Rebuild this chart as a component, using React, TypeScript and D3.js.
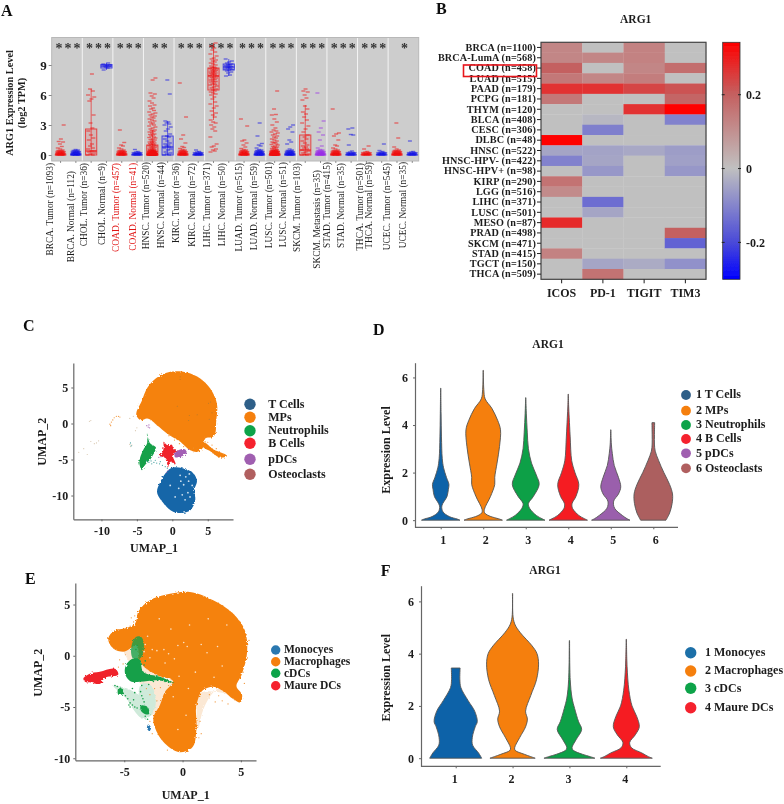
import * as d3 from "d3";
import { useEffect, useRef } from "react";

const SERIF = "'Liberation Serif', 'Times New Roman', serif";
const INK = "#1c1c1c";
type Sel = d3.Selection<any, any, any, any>;
type Pt = [number, number];

/* ---------- panel A: expression by tumour type ---------- */
const facets = ["BRCA", "CHOL", "COAD", "HNSC", "KIRC", "LIHC", "LUAD", "LUSC", "SKCM", "STAD", "THCA", "UCEC"];
const starCounts = [3, 3, 3, 2, 3, 3, 3, 3, 3, 3, 3, 1];
const sampleLabels = [
  "BRCA. Tumor (n=1093)", "BRCA. Normal (n=112)", "CHOL. Tumor (n=36)", "CHOL. Normal (n=9)",
  "COAD. Tumor (n=457)", "COAD. Normal (n=41)", "HNSC. Tumor (n=520)", "HNSC. Normal (n=44)",
  "KIRC. Tumor (n=36)", "KIRC. Normal (n=72)", "LIHC. Tumor (n=371)", "LIHC. Normal (n=50)",
  "LUAD. Tumor (n=515)", "LUAD. Normal (n=59)", "LUSC. Tumor (n=501)", "LUSC. Normal (n=51)",
  "SKCM. Tumor (n=103)", "SKCM. Metastasis (n=35)", "STAD. Tumor (n=415)", "STAD. Normal (n=35)",
  "THCA. Tumor (n=501)", "THCA. Normal (n=59)", "UCEC. Tumor (n=545)", "UCEC. Normal (n=35)",
];
const highlightedLabels = ["COAD. Tumor (n=457)", "COAD. Normal (n=41)"];
const labelX = [50, 71, 84, 101.7, 116, 132.7, 146, 160.7, 175.7, 191.7, 207, 221.7, 238.7, 254, 268.7, 283.3, 296.7, 316.7, 327.3, 340.7, 360, 369, 386.7, 402.7];
const labelTop = [163, 171, 163, 163, 163, 163, 162, 162, 163, 163, 163, 163, 163, 163, 162, 162, 163, 170, 162, 163, 163, 162, 163, 162];

const floorWide = [0, 0, 0, 0, 0, 0, 0.01, 0.02, 0.02, 0.03, 0.05, 0.05, 0.06, 0.08, 0.08, 0.09, 0.1, 0.1, 0.12, 0.13, 0.14, 0.15, 0.16, 0.18, 0.19, 0.2, 0.21, 0.22, 0.24, 0.25, 0.27, 0.28, 0.3, 0.32, 0.34, 0.36, 0.38, 0.4, 0.42, 0.46, 0.5];
const floorLow = [0, 0, 0, 0, 0, 0.01, 0.02, 0.03, 0.05, 0.05, 0.06, 0.08, 0.09, 0.1, 0.12, 0.13, 0.15, 0.17, 0.18, 0.2, 0.22, 0.24, 0.26, 0.3];

const sampleValues: number[][] = [
  [...floorWide, 0.6, 0.7, 0.85, 1.1, 1.3, 1.35, 1.6, 3.0],
  [...floorWide, 0.55],
  [0, 0, 0.1, 0.2, 0.3, 0.4, 0.4, 0.6, 0.7, 0.9, 1.1, 1.5, 1.7, 2, 2.4, 2.7, 3.2, 4, 5.4, 5.6, 5.8, 6, 6.4, 6.6, 8.1],
  [8.5, 8.7, 8.8, 8.85, 8.9, 8.95, 9, 9.1, 9.2],
  [...floorWide, 0.6, 0.7, 0.9, 1, 1.25, 2.5],
  [...floorLow, 0.35, 0.55],
  [...floorWide, ...floorWide, 0.5, 0.55, 0.6, 0.65, 0.7, 0.75, 0.8, 0.85, 0.9, 0.95, 1, 1.05, 1.1, 1.15, 1.2, 1.25, 1.3, 1.35, 1.4, 1.5, 1.55, 1.6, 1.7, 1.75, 1.8, 1.9, 2, 2.05, 2.1, 2.2, 2.3, 2.35, 2.45, 2.5, 2.6, 2.7, 2.8, 2.9, 3, 3.1, 3.2, 3.3, 3.4, 3.5, 3.6, 3.7, 3.8, 3.9, 4, 4.1, 4.2, 4.3, 4.45, 4.6, 4.7, 4.9, 5, 5.2, 5.4, 5.7, 5.9, 6.1, 6.2, 7.5, 7.7],
  [0, 0, 0.1, 0.2, 0.3, 0.5, 0.6, 0.7, 0.8, 0.9, 1, 1.1, 1.2, 1.4, 1.6, 1.8, 1.9, 2.1, 2.4, 2.6, 2.8, 3, 3.1, 3.2, 3.3, 3.4, 6.1, 7.5],
  [...floorWide, 0.55, 0.65, 0.75, 0.85, 1.2, 1.6, 2, 3.8, 7.2],
  [...floorLow, 0.35, 0.5],
  [0.3, 0.4, 0.5, 0.6, 0.8, 0.9, 1.1, 1.8, 2.4, 2.6, 2.8, 3, 3.2, 3.3, 3.5, 3.8, 4, 4.2, 4.4, 4.7, 4.9, 5.1, 5.3, 5.6, 5.8, 6, 6.1, 6.2, 6.3, 6.4, 6.5, 6.6, 6.7, 6.8, 6.9, 7, 7.05, 7.1, 7.2, 7.3, 7.35, 7.4, 7.5, 7.55, 7.6, 7.7, 7.75, 7.8, 7.9, 7.95, 8, 8.05, 8.1, 8.15, 8.2, 8.25, 8.3, 8.35, 8.4, 8.45, 8.5, 8.55, 8.6, 8.65, 8.7, 8.75, 8.8, 8.9, 9, 9.1, 9.2, 9.3, 9.4, 9.5, 9.6, 9.7, 9.9, 10.1, 10.3, 10.5, 10.7, 10.9, 11.2],
  [7.9, 8, 8.2, 8.3, 8.4, 8.5, 8.55, 8.6, 8.65, 8.7, 8.75, 8.8, 8.85, 8.9, 8.95, 9, 9.05, 9.1, 9.2, 9.3, 9.4, 9.6],
  [...floorWide, 0.55, 0.65, 0.8, 1, 1.2, 1.4, 1.5, 2.9, 3.6],
  [...floorWide, 0.55, 0.7, 0.9, 1, 1.15, 1.9, 3.2],
  [...floorWide, ...floorWide, 0.55, 0.6, 0.65, 0.7, 0.75, 0.8, 0.85, 0.9, 1, 1.05, 1.1, 1.2, 1.25, 1.3, 1.4, 1.5, 1.6, 1.7, 1.8, 1.9, 2, 2.1, 2.2, 2.3, 2.4, 2.5, 2.7, 3, 3.3, 3.6, 4, 4.05, 4.6, 6.4],
  [...floorWide, 0.6, 1.1, 1.3, 1.5, 2.3, 2.6, 2.8, 3],
  [0, 0, 0.05, 0.1, 0.2, 0.3, 0.4, 0.5, 0.6, 0.7, 0.8, 0.9, 1, 1.2, 1.4, 1.6, 1.8, 2, 2.3, 2.6, 2.9, 3.2, 3.5, 3.8, 4.1, 4.3, 4.6, 4.9, 5.5, 5.7, 6, 6.3, 6.4, 6.6],
  [...floorWide, 0.55, 0.7, 0.9, 1.5, 2, 2.3, 2.7, 3.4, 6.2],
  [...floorWide, 0.6, 0.7, 0.9, 1, 1.5, 1.9, 2.1, 2.2, 4.6],
  [...floorLow, 0.4, 1, 2, 2.05, 2.6, 2.7],
  [...floorLow, 0.35, 0.6, 0.9],
  [...floorLow, 0.35, 0.45, 1.1],
  [...floorWide, 0.6, 0.8, 1.7, 3.2],
  [...floorLow, 0.35, 1.4],
];

// [whisker low, q1, median, q3, whisker high], null where the box is hidden by the points
const boxStats: (number[] | null)[] = [
  null, null, [0, 0, 0.4, 2.6, 6.6], [8.5, 8.7, 8.9, 9.05, 9.2], null, null,
  [0, 0, 0.1, 1, 2.5], [0, 0, 0.8, 1.9, 3.4], null, null, [3.5, 6.5, 7.9, 8.7, 11.2], [7.9, 8.5, 8.8, 9.1, 9.6],
  null, null, null, null, [0, 0, 0.5, 2, 5], null, null, null, null, null, null, null,
];
const jitter = [-0.9, 0.4, -0.2, 0.8, -0.6, 0.1, 1, -1, 0.55, -0.35, 0.25, -0.75, 0.7, -0.1];

/* ---------- panel B: correlation with checkpoint genes ---------- */
const rowLabels = [
  "BRCA (n=1100)", "BRCA-LumA (n=568)", "COAD (n=458)", "LUAD (n=515)", "PAAD (n=179)", "PCPG (n=181)",
  "THYM (n=120)", "BLCA (n=408)", "CESC (n=306)", "DLBC (n=48)", "HNSC (n=522)", "HNSC-HPV- (n=422)",
  "HNSC-HPV+ (n=98)", "KIRP (n=290)", "LGG (n=516)", "LIHC (n=371)", "LUSC (n=501)", "MESO (n=87)",
  "PRAD (n=498)", "SKCM (n=471)", "STAD (n=415)", "TGCT (n=150)", "THCA (n=509)",
];
const geneLabels = ["ICOS", "PD-1", "TIGIT", "TIM3"];
const icosValues = [0.12, 0.12, 0.2, 0.15, 0.27, 0.15, 0, 0, 0, 0.34, -0.045, -0.105, 0, 0.16, 0.11, 0, 0, 0.28, 0, 0, 0.13, 0, 0];
const pd1Values = [0, 0.12, 0, 0.12, 0.27, 0, 0, -0.015, -0.11, 0, -0.05, -0.045, -0.07, 0, 0, -0.14, -0.045, 0, 0, 0, 0, -0.045, 0.16];
const tigitValues = [0.13, 0.13, 0.12, 0.14, 0.24, 0, 0.27, 0, 0, 0, -0.04, 0, 0, 0, 0, 0, 0, 0, 0, 0, 0, -0.035, 0];
const tim3Values = [0, 0, 0.17, 0, 0.22, 0.19, 0.34, -0.105, 0, 0, -0.06, -0.055, -0.07, 0, 0, 0, 0, 0, 0.2, -0.16, 0, -0.08, 0];
const colorbarTicks = [0.2, 0, -0.2];

/* ---------- panels C, E: UMAP outlines in UMAP units ---------- */
const cMps: Pt[] = [[-4.98, 0.93], [-4.27, 3.24], [-3.5, 5.0], [-2.3, 6.3], [-0.28, 7.18], [2.07, 7.08], [3.94, 6.25], [5.35, 4.86], [6.29, 2.78], [6.2, 0.46], [5.73, -1.85], [4.65, -2.08], [4.41, -3.24], [3.47, -3.94], [2.54, -3.7], [1.13, -2.55], [-0.75, -1.39], [-2.16, -0.23], [-3.57, 0.69], [-4.5, 0.46]];
const cMpsTail: Pt[] = [[4.41, -2.75], [5.82, -3.6], [7.7, -4.54], [6.9, -4.75], [5.35, -3.85], [4.3, -3.1]];
const cTCells: Pt[] = [[-0.28, -6.25], [2.07, -6.39], [3, -6.94], [3.47, -7.87], [3.1, -9.26], [3.24, -10.65], [2.54, -12.04], [0.19, -12.27], [-1.22, -11.1], [-2.16, -9.49], [-1.69, -8.1], [-0.99, -6.94]];
const cNeutrophils: Pt[] = [[-3.57, -1.39], [-3.1, -2.78], [-2.39, -3.24], [-2.86, -4.63], [-4.03, -6.02], [-4.27, -6.48], [-4.6, -5.79], [-4.13, -3.7], [-3.57, -2.78]];
const cBCells: Pt[] = [[-1.22, -2.55], [-0.75, -3.0], [-0.05, -3.0], [0.19, -3.61], [0.89, -3.8], [0.09, -4.26], [0.42, -5.65], [-0.28, -5.32], [-0.61, -6.11], [-0.89, -4.86], [-1.78, -4.4], [-1.36, -3.94], [-1.22, -3.24]];
const cPdcs: Pt[] = [[0.3, -4.55], [2.0, -3.85], [1.9, -3.7], [0.3, -4.3]];
const cOrangeStray: Pt[] = [[-8.7, -0.3], [-8.8, -0.1], [-8.6, 0.2], [-8.4, 0.5], [-8.2, 0.8], [-7.9, 1], [-7.6, 1], [-7.4, 0.9], [5, -2.6], [4.6, -1.9], [5.6, -3], [6.2, -3.5], [3, -3.4], [1, -2.8], [0.3, -2.3], [-0.5, -1.7], [1.6, -3.2], [7.2, -4.3]];
const cFaintStray: Pt[] = [[-11.7, 0.3], [-11.5, 0.4], [-10.7, -2.7], [-11, -2.8], [-10.4, -2.4], [-12.5, -3.5], [-13.2, -4], [-12, -4.3], [-11.5, -2.5], [-6, -2.9], [-5.9, -3.2], [-5.7, -3], [-5.2, -1], [-5, -0.6], [-6, 0.7], [-5.5, 1]];
const cTealStray: Pt[] = [[-3, -5.2], [-2.6, -5.4], [-2.2, -5.5], [-1.8, -5.6], [-1.4, -5.8], [-1, -6], [-3.3, -5.4], [-2.9, -5.6], [-2.4, -5.1], [-1.7, -5.3], [-3.6, -5.2], [-0.7, -6.2], [-5.9, -2.7], [-5.8, -3.1]];
const cPurpleStray: Pt[] = [[-3.6, -0.3], [-3.4, -0.5], [-3.3, -0.2], [-3.2, -0.6], [-1.6, -4.6], [-1.9, -4.7], [2.3, -3.6], [0.6, -4.5], [-0.6, -6.5], [-0.8, -6.8]];
const cDarkSpeck: Pt[] = [[1.1, 6.5], [1.1, 6.1], [5.4, 3], [5.1, 2.8], [5.6, 1.5], [3.5, 1.2], [2.3, 0.4], [2.4, 1.1], [5.2, 0.6], [0.7, 2.4]];
const cWhiteSpeck: Pt[] = [[1.2, -8], [1.6, -8.5], [1.9, -7.4], [2.3, -8], [0.9, -9], [1.4, -9.9], [2.2, -9.6], [1.8, -10.6], [2.4, -7], [0.4, -10.2], [-0.3, -8.6], [2.8, -8.6], [2.5, -10.2], [1.1, -7.2]];

const eMacrophages: Pt[] = [[-6.37, 1.69], [-5.94, 2.4], [-4.8, 2.7], [-4.1, 3.1], [-3.8, 4.29], [-2.8, 5.42], [-1.37, 5.97], [0.63, 6.23], [2.63, 5.42], [4.34, 4.12], [5.34, 2.5], [5.54, 0.39], [5.06, -1.88], [4.63, -3.02], [5.11, -3.83], [4.97, -4.55], [4.34, -4.22], [3.49, -3.44], [2.63, -3.02], [1.77, -3.34], [1.2, -4.81], [1.2, -7.08], [0.77, -9.03], [-0.23, -9.42], [-1.23, -8.86], [-2.23, -7.4], [-2.51, -6.1], [-1.94, -4.81], [-1.51, -3.51], [-0.8, -2.53], [-2.23, -1.88], [-3.66, -0.58], [-3.94, 1.04], [-5.09, 0.39], [-5.94, 0.71]];
const eSparse: Pt[] = [[-5.1, 2.6], [-3.6, 2.8], [-3.6, -0.7], [-2, -2], [-0.5, -2.7], [-1.4, -3.6], [-2, -5.2], [-2.6, -5.8], [-3.4, -4.3], [-3.6, -2.8], [-4.4, -1], [-5, 0.4]];
const eSparseRight: Pt[] = [[3.2, -3.1], [4.6, -2.9], [4.4, -3.9], [3.4, -3.6], [1.6, -3.6], [1.4, -7], [1.7, -5.5]];
const eGreenSparseA: Pt[] = [[-5.94, -2.92], [-4.8, -3.18], [-2.66, -5.78], [-3.09, -6.1], [-5.09, -3.84]];
const eGreenSparseB: Pt[] = [[-3.37, -2.69], [-3.0, -2.7], [-2.66, -5.4], [-3.1, -5.4]];
const eCdcsCore: Pt[] = [[-4.94, -1.23], [-4.23, -0.26], [-3.8, -0.26], [-3.37, -1.56], [-1.94, -2.05], [-0.66, -2.69], [-2.23, -2.38], [-3.66, -2.53], [-4.37, -2.53], [-4.94, -1.72]];
const eCdcsStreak: Pt[] = [[-3.8, 1.9], [-3.72, 1.9], [-3.85, -0.4], [-4.05, -0.4]];
const eCdcsBlobA: Pt[] = [[-5.5, -3.2], [-5.1, -3.3], [-5.1, -3.7], [-5.5, -3.8]];
const eCdcsBlobB: Pt[] = [[-3.6, -4.9], [-3, -5], [-2.9, -5.7], [-3.2, -5.7], [-3.6, -5.3]];
const eMaureDcs: Pt[] = [[-8.51, -2.27], [-8.09, -1.82], [-7.09, -1.56], [-5.66, -1.4], [-5.51, -1.72], [-6.74, -2.21], [-7.03, -2.7], [-7.89, -2.6], [-8.37, -2.53]];
const eMonocytes: Pt[] = [[-2.95, -6.7], [-2.7, -7], [-2.85, -7.35], [-3.05, -7.1]];
const eGreenStray: Pt[] = [[-5.8, -2.9], [-5.6, -3], [-5.3, -3.3], [-4.9, -3.9], [-4.7, -4.2], [-4.5, -4.6], [-4.3, -4.8], [-4.1, -5], [-3.9, -5.1], [-3.6, -3.5], [-3.5, -3.9], [-3.4, -4.2], [-3.3, -4.5], [-3.5, -2.9], [-4.3, -3.2], [-4.1, -3.6], [-4.6, -4.8], [-4.5, -5], [-4.2, -4.3], [-3.2, -5.9], [-3, -6.2], [-2.5, -2.5], [-2.9, -2.8], [-1.5, -2.5], [-3.2, -0.5], [-3.3, -0.9], [-4, 0.6], [-3.9, 1]];
const eOrangeStray: Pt[] = [[-5.4, -0.4], [-5.1, -0.8], [-5.5, -1.1], [-4.9, 0.1], [-4.5, 2.9], [-4.2, 3.3], [-4.4, 3.7], [-4.1, 3.9], [1.6, -7.6], [1.5, -6.4], [1.4, -8], [3.4, -4.4], [3.9, -4.7], [3.1, -3.9], [2.3, -3.8], [2.8, -4.5], [5.3, -2.7], [5.2, -1.6], [5.7, 1.5], [-1.3, -9.2], [-2.6, -7.6], [-2.8, -6.4], [-2.4, -3.2], [-2.8, -3.8], [-2.2, -4.4], [-1.9, -3.1], [-1.2, -2.9], [-3.1, -3.2]];
const eWhiteSpeck: Pt[] = [[-2.6, 0.6], [-2.2, 0.5], [-1.6, 0.6], [-1.2, 0.2], [-0.4, 1], [0.1, 1.3], [0.4, 0.9], [-0.7, -0.3], [-1.5, -0.7], [-2.8, -0.2], [1.6, 1.1], [2.1, 0.3], [3, 0.9], [3.4, -1], [2.7, -2.1], [1.1, -1.6], [-0.3, -2], [0.6, 3], [-1, 2.6], [-3, 1.9], [3.8, 3], [0.3, -5.8], [-0.8, -4], [-0.4, -7.2], [0.5, -3.2], [2.2, 3.6], [-2, 3.6], [-3.3, 0.4], [-3.2, 1.1]];

const clusterLabelsC = ["T Cells", "MPs", "Neutrophils", "B Cells", "pDCs", "Osteoclasts"];
const clusterLabelsE = ["Monocyes", "Macrophages", "cDCs", "Maure DCs"];

/* ---------- panels D, F: violin profiles, [level, relative half width] ---------- */
const violinD: Pt[][] = [
  [[0, 1], [0.05, 0.85], [0.15, 0.45], [0.35, 0.12], [0.6, 0.06], [1, 0.33], [1.3, 0.4], [1.5, 0.43], [1.8, 0.3], [2.2, 0.15], [2.6, 0.08], [3.5, 0.04], [4.5, 0.02], [5.55, 0.005]],
  [[0, 1], [0.06, 0.8], [0.15, 0.4], [0.3, 0.08], [0.45, 0.06], [1, 0.38], [1.5, 0.6], [1.8, 0.6], [2.4, 0.72], [3.1, 0.85], [3.8, 0.9], [4.2, 0.75], [4.7, 0.45], [5.1, 0.1], [5.5, 0.03], [6.3, 0.005]],
  [[0, 1], [0.06, 0.85], [0.2, 0.55], [0.5, 0.2], [0.7, 0.14], [1, 0.4], [1.5, 0.7], [1.9, 0.55], [2.4, 0.3], [3, 0.14], [3.7, 0.08], [4.5, 0.03], [5.15, 0.005]],
  [[0, 1], [0.06, 0.85], [0.2, 0.55], [0.5, 0.22], [0.7, 0.2], [1, 0.4], [1.5, 0.55], [2, 0.35], [2.5, 0.18], [3.5, 0.1], [4.3, 0.05], [4.8, 0.02], [5.3, 0.005]],
  [[0, 1], [0.06, 0.85], [0.2, 0.6], [0.5, 0.2], [0.8, 0.15], [1.1, 0.4], [1.4, 0.52], [1.8, 0.4], [2.3, 0.18], [2.8, 0.08], [3.2, 0.03], [3.8, 0.005]],
  [[0, 0.66], [0.3, 0.85], [0.7, 0.98], [1.1, 1], [1.5, 0.85], [2, 0.55], [2.5, 0.28], [2.9, 0.1], [3.2, 0.06], [3.6, 0.06], [4.1, 0.07]],
];
const violinF: Pt[][] = [
  [[0, 1], [0.2, 0.88], [0.5, 0.65], [0.8, 0.64], [1.2, 0.75], [1.4, 0.83], [1.8, 0.73], [2.2, 0.48], [2.7, 0.2], [3, 0.16], [3.45, 0.17]],
  [[0, 0.87], [0.06, 0.7], [0.15, 0.45], [0.3, 0.1], [0.4, 0.08], [0.8, 0.28], [1.2, 0.5], [1.5, 0.57], [1.8, 0.5], [2.4, 0.7], [3, 0.92], [3.6, 1], [4, 0.94], [4.3, 0.75], [4.8, 0.3], [5.1, 0.1], [5.4, 0.02], [6.3, 0.005]],
  [[0, 0.98], [0.06, 0.8], [0.15, 0.5], [0.3, 0.15], [0.4, 0.1], [0.7, 0.25], [1.1, 0.47], [1.4, 0.35], [1.9, 0.2], [2.3, 0.1], [3, 0.03], [4.5, 0.005]],
  [[0, 1], [0.06, 0.85], [0.2, 0.6], [0.4, 0.2], [0.6, 0.13], [0.9, 0.35], [1.2, 0.5], [1.6, 0.4], [2, 0.22], [2.6, 0.1], [3.5, 0.03], [4.55, 0.005]],
];
const legendD = ["1 T Cells", "2 MPs", "3 Neutrophils", "4 B Cells", "5  pDCs", "6 Osteoclasts"];
const legendF = ["1 Monocyes", "2 Macrophages", "3 cDCs", "4 Maure DCs"];
const violinColorsD = ["#0b62a8", "#f57f07", "#0ba046", "#f51f23", "#9a5eac", "#ac5e5e"];
const violinColorsF = ["#0b62a8", "#f57f07", "#0ba046", "#f51f23"];
const legendColorsD = ["#2e5f88", "#f57f0e", "#11a34a", "#f5222d", "#a05fb0", "#b05f5f"];
const legendColorsF = ["#1f6fa8", "#f57f0e", "#11a34a", "#f5222d"];
const legendColorsE = ["#2a78b0", "#f57f0e", "#11a34a", "#f5222d"];

function label(
  g: Sel, x: number, y: number, s: string, size = 12,
  opts: { anchor?: string; rotate?: boolean; weight?: string; fill?: string } = {},
) {
  const t = g.append("text")
    .attr("font-family", SERIF).attr("font-size", size)
    .attr("font-weight", opts.weight ?? "bold")
    .attr("fill", opts.fill ?? INK)
    .attr("text-anchor", opts.anchor ?? "middle")
    .text(s);
  if (opts.rotate) t.attr("transform", `translate(${x},${y}) rotate(-90)`);
  else t.attr("x", x).attr("y", y);
  return t;
}

function styleAxis(ga: Sel, color = "#666", fontSize = 12) {
  ga.select(".domain").attr("stroke", color).attr("stroke-width", 1.2);
  ga.selectAll(".tick line").attr("stroke", color);
  ga.selectAll(".tick text")
    .attr("font-family", SERIF).attr("font-weight", "bold")
    .attr("font-size", fontSize).attr("fill", INK);
}

function drawPanelA(root: Sel) {
  const g = root.append("g");
  const x = d3.scaleBand().domain(facets).range([51.7, 418.7]);
  const y = d3.scaleLinear().domain([-0.6, 11.75]).range([161, 37.5]);
  const band = x.bandwidth();
  const centerOf = (i: number) => (x(facets[Math.floor(i / 2)]) ?? 0) + band * (i % 2 === 0 ? 0.29 : 0.79);

  g.append("rect").attr("x", 51.7).attr("y", 37.5).attr("width", 367).attr("height", 123.5)
    .attr("fill", "#cdcdcd").attr("stroke", "#b8b8b8");
  facets.slice(1).forEach((f) => {
    g.append("line").attr("x1", x(f) ?? 0).attr("x2", x(f) ?? 0).attr("y1", 38).attr("y2", 160.5)
      .attr("stroke", "#f4f4f4").attr("stroke-width", 1);
  });

  facets.forEach((f, i) => {
    const n = starCounts[i];
    const mid = (x(f) ?? 0) + band / 2;
    d3.range(n).forEach((k) => {
      label(g, mid + 1 + (k - (n - 1) / 2) * 9, 52.5, "*", 14, { fill: "#333" });
    });
  });

  const isMetastasis = (i: number) => sampleLabels[i].includes("Metastasis");
  const tint = (i: number) => (isMetastasis(i) ? "#9b30e8" : i % 2 === 0 ? "#f01010" : "#1414e6");

  sampleValues.forEach((values, i) => {
    const cx = centerOf(i);
    const stats = boxStats[i];
    const spread = 3.9;
    // the floor of each group tapers upward like the hill in the source plot
    const taper = (d: number) => (d < 0.6 ? 1 - d * 0.5 : 0.8);
    g.append("g").selectAll("rect").data(values).join("rect")
      .attr("x", (d, k) => cx + jitter[k % jitter.length] * spread * taper(d) - 2)
      .attr("y", (d) => y(d) - 0.7)
      .attr("width", 4).attr("height", 1.4)
      .attr("fill", tint(i)).attr("opacity", 0.55);
    if (stats) {
      const [lo, q1, med, q3, hi] = stats;
      const c = tint(i);
      const bw = 5.6;
      g.append("line").attr("x1", cx).attr("x2", cx).attr("y1", y(lo)).attr("y2", y(hi)).attr("stroke", c).attr("opacity", 0.6);
      g.append("rect").attr("x", cx - bw).attr("width", bw * 2).attr("y", y(q3)).attr("height", y(q1) - y(q3))
        .attr("fill", c).attr("fill-opacity", 0.12).attr("stroke", c).attr("stroke-opacity", 0.7);
      g.append("line").attr("x1", cx - bw).attr("x2", cx + bw).attr("y1", y(med)).attr("y2", y(med)).attr("stroke", c);
    }
    g.append("line").attr("x1", cx).attr("x2", cx).attr("y1", 161).attr("y2", 163).attr("stroke", "#777").attr("stroke-width", 0.8);
  });

  const ga = g.append("g").attr("transform", "translate(51.7,0)")
    .call(d3.axisLeft(y).tickValues([0, 3, 6, 9]).tickFormat(d3.format("d")).tickSize(3).tickPadding(2));
  styleAxis(ga, "#888", 13);
  ga.select(".domain").remove();

  label(g, 13, 103, "ARG1 Expression Level", 10.3, { rotate: true });
  label(g, 25, 103, "(log2 TPM)", 10.3, { rotate: true });

  sampleLabels.forEach((s, i) => {
    label(g, labelX[i] + 3, labelTop[i], s, 9.4, {
      anchor: "end", rotate: true, weight: "normal",
      fill: highlightedLabels.includes(s) ? "#e01414" : INK,
    });
  });
}

function drawPanelB(root: Sel, defs: Sel) {
  const g = root.append("g");
  const x = d3.scaleBand().domain(geneLabels).range([541, 706]);
  const y = d3.scaleBand().domain(rowLabels).range([42.3, 279.3]);
  const color = d3.scaleLinear<string>()
    .domain([-0.3, -0.2, 0, 0.2, 0.34])
    .range(["#0000ff", "#4a4ad8", "#c0c0c0", "#c46060", "#ff0000"]);
  const columns = [icosValues, pd1Values, tigitValues, tim3Values];

  geneLabels.forEach((gene, c) => {
    g.append("g").selectAll("rect").data(columns[c]).join("rect")
      .attr("x", x(gene) ?? 0)
      .attr("y", (_, r) => y(rowLabels[r]) ?? 0)
      .attr("width", x.bandwidth() + 0.3).attr("height", y.bandwidth() + 0.3)
      .attr("fill", (d) => color(d));
  });
  g.append("rect").attr("x", 541).attr("y", 42.3).attr("width", 165).attr("height", 237)
    .attr("fill", "none").attr("stroke", "#444").attr("stroke-width", 1.2);

  const ay = g.append("g").attr("transform", "translate(541,0)")
    .call(d3.axisLeft(y).tickSize(4).tickPadding(1));
  styleAxis(ay, "#222", 10.2);
  ay.selectAll(".tick text").attr("letter-spacing", 0.12);
  ay.select(".domain").remove();
  const ax = g.append("g").attr("transform", "translate(0,279.3)")
    .call(d3.axisBottom(x).tickSize(4).tickPadding(5));
  styleAxis(ax, "#222", 12);
  ax.select(".domain").remove();

  g.append("rect").attr("x", 463.5).attr("y", 65).attr("width", 73).attr("height", 11.5)
    .attr("fill", "none").attr("stroke", "#e8141c").attr("stroke-width", 1.6);

  label(g, 635.7, 23, "ARG1", 11.5);

  // colour bar
  const barY = d3.scaleLinear().domain([-0.3, 0.342]).range([279.3, 42.3]);
  const barX = 722.7;
  const barW = 17.3;
  const grad = defs.append("linearGradient")
    .attr("id", "argbar").attr("x1", 0).attr("x2", 0).attr("y1", 1).attr("y2", 0);
  [-0.3, -0.2, 0, 0.2, 0.34].forEach((v) => {
    grad.append("stop").attr("offset", (v + 0.3) / 0.64).attr("stop-color", color(v));
  });
  g.append("rect").attr("x", barX).attr("y", 42.3).attr("width", barW).attr("height", 237)
    .attr("fill", "url(#argbar)").attr("stroke", "#333").attr("stroke-width", 0.8);
  const ac = g.append("g").attr("transform", `translate(${barX + barW},0)`)
    .call(d3.axisRight(barY).tickValues(colorbarTicks).tickFormat((d) => String(d)).tickSize(0).tickPadding(6));
  styleAxis(ac, "#222", 12);
  ac.select(".domain").remove();
  colorbarTicks.forEach((t) => {
    g.append("line").attr("x1", barX - 1).attr("x2", barX + 2).attr("y1", barY(t)).attr("y2", barY(t)).attr("stroke", "#222");
    g.append("line").attr("x1", barX + barW - 2).attr("x2", barX + barW + 1).attr("y1", barY(t)).attr("y2", barY(t)).attr("stroke", "#222");
  });
}

type Region = { pts: Pt[]; fill: string; opacity?: number };
type Strays = { pts: Pt[]; fill: string; r: number; opacity?: number };

function drawUmap(
  root: Sel,
  cfg: {
    xDom: Pt; xRange: Pt; yDom: Pt; yRange: Pt;
    xTicks: number[]; yTicks: number[];
    regions: Region[]; strays: Strays[];
  },
) {
  const g = root.append("g");
  const x = d3.scaleLinear().domain(cfg.xDom).range(cfg.xRange);
  const y = d3.scaleLinear().domain(cfg.yDom).range(cfg.yRange);
  const outline = d3.line<Pt>().x((d) => x(d[0])).y((d) => y(d[1])).curve(d3.curveCatmullRomClosed.alpha(1));

  const blobs = g.append("g").attr("filter", "url(#grain)");
  cfg.regions.forEach((r) => {
    blobs.append("path").attr("d", outline(r.pts)).attr("fill", r.fill).attr("opacity", r.opacity ?? 1);
  });
  cfg.strays.forEach((s) => {
    g.append("g").selectAll("circle").data(s.pts).join("circle")
      .attr("cx", (d) => x(d[0])).attr("cy", (d) => y(d[1]))
      .attr("r", s.r).attr("fill", s.fill).attr("opacity", s.opacity ?? 1);
  });

  const ax = g.append("g").attr("transform", `translate(0,${cfg.yRange[0]})`)
    .call(d3.axisBottom(x).tickValues(cfg.xTicks).tickFormat((d) => String(d)).tickSize(2).tickSizeOuter(0).tickPadding(5));
  styleAxis(ax);
  const ay = g.append("g").attr("transform", `translate(${cfg.xRange[0]},0)`)
    .call(d3.axisLeft(y).tickValues(cfg.yTicks).tickFormat((d) => String(d)).tickSize(2).tickSizeOuter(0).tickPadding(3));
  styleAxis(ay);
}

function drawViolins(
  root: Sel,
  cfg: {
    profiles: Pt[][]; colors: string[];
    centers: Pt; frame: Pt; yRange: Pt; yDom: Pt; halfWidth: number; labelDx: number;
  },
) {
  const g = root.append("g");
  const cats = cfg.profiles.map((_, i) => String(i + 1));
  const cx = d3.scalePoint().domain(cats).range(cfg.centers);
  const y = d3.scaleLinear().domain(cfg.yDom).range(cfg.yRange);
  const w = d3.scaleLinear().domain([0, 1]).range([0, cfg.halfWidth]);
  const area = d3.area<Pt>()
    .y((d) => y(d[0]))
    .x0((d) => -w(d[1]))
    .x1((d) => w(d[1]))
    .curve(d3.curveCatmullRom.alpha(0.5));

  cfg.profiles.forEach((p, i) => {
    g.append("path")
      .attr("transform", `translate(${cx(String(i + 1))},0)`)
      .attr("d", area(p))
      .attr("fill", cfg.colors[i])
      .attr("stroke", "#555").attr("stroke-width", 0.9);
  });

  const [left, right] = cfg.frame;
  const ax = g.append("g").attr("transform", `translate(0,${cfg.yRange[0]})`)
    .call(d3.axisBottom(cx).tickSize(2).tickSizeOuter(0).tickPadding(6));
  styleAxis(ax);
  ax.select(".domain").attr("d", `M${left},0H${right}`);
  ax.selectAll(".tick text").attr("dx", cfg.labelDx);
  const ay = g.append("g").attr("transform", `translate(${left},0)`)
    .call(d3.axisLeft(y).tickValues([0, 2, 4, 6]).tickFormat((d) => String(d)).tickSize(2).tickSizeOuter(0).tickPadding(5));
  styleAxis(ay);
}

function drawLegend(root: Sel, xc: number, xt: number, r: number, ys: number[], labels: string[], colors: string[], size = 12) {
  const g = root.append("g");
  labels.forEach((s, i) => {
    g.append("circle").attr("cx", xc).attr("cy", ys[i]).attr("r", r).attr("fill", colors[i]);
    label(g, xt, ys[i] + size * 0.28, s, size, { anchor: "start" });
  });
}

export default function App() {
  const ref = useRef<SVGSVGElement | null>(null);

  useEffect(() => {
    const el = ref.current;
    if (!el) return;
    const svg = d3.select(el);
    svg.selectAll("*").remove();

    const defs = svg.append("defs");
    // the source is a soft, low resolution scan, and its UMAP clouds have grainy edges
    defs.append("filter").attr("id", "soft")
      .attr("filterUnits", "userSpaceOnUse")
      .attr("x", 0).attr("y", 0).attr("width", 784).attr("height", 804)
      .append("feGaussianBlur").attr("stdDeviation", 0.4);
    const grain = defs.append("filter").attr("id", "grain");
    grain.append("feTurbulence").attr("type", "fractalNoise").attr("baseFrequency", 0.55)
      .attr("numOctaves", 2).attr("seed", 4).attr("result", "n");
    grain.append("feDisplacementMap").attr("in", "SourceGraphic").attr("in2", "n").attr("scale", 3.2);

    const page = svg.append("g").attr("filter", "url(#soft)");

    drawPanelA(page);
    drawPanelB(page, defs);

    // C
    drawUmap(page, {
      xDom: [-13.97, 8.56], xRange: [73.3, 233], yDom: [-13.3, 8.4], yRange: [519.3, 363],
      xTicks: [-10, -5, 0, 5], yTicks: [-10, -5, 0, 5],
      regions: [
        { pts: cMps, fill: "#f5820f" },
        { pts: cMpsTail, fill: "#f5820f" },
        { pts: cTCells, fill: "#1766a8" },
        { pts: cNeutrophils, fill: "#16a04a" },
        { pts: cBCells, fill: "#f0202a" },
        { pts: cPdcs, fill: "#a35fb5" },
      ],
      strays: [
        { pts: cFaintStray, fill: "#d9c8b0", r: 0.6 },
        { pts: cOrangeStray, fill: "#f09030", r: 0.6 },
        { pts: cTealStray, fill: "#3f9c9c", r: 0.6 },
        { pts: cPurpleStray, fill: "#a35fb5", r: 0.6 },
        { pts: cDarkSpeck, fill: "#b07a30", r: 0.5 },
        { pts: cWhiteSpeck, fill: "#cfe0ee", r: 0.9 },
      ],
    });
    label(page, 45.7, 441.7, "UMAP_2", 12, { rotate: true });
    label(page, 154, 552, "UMAP_1", 12);
    drawLegend(page, 250, 268.3, 5.7, [404.3, 417.3, 430.7, 443.3, 459.3, 474.3], clusterLabelsC, legendColorsD);

    // D
    drawViolins(page, {
      profiles: violinD, colors: violinColorsD,
      centers: [440.7, 653.3], frame: [415, 678], yRange: [527.3, 362.7], yDom: [-0.3, 6.62], halfWidth: 19.2, labelDx: 2,
    });
    label(page, 548, 348, "ARG1", 11.5);
    label(page, 390, 450, "Expression Level", 12, { rotate: true });
    drawLegend(page, 686, 696, 4.9, [395, 410.7, 425, 439, 453.3, 468.3], legendD, legendColorsD);

    // E
    drawUmap(page, {
      xDom: [-9.2, 6.3], xRange: [75.3, 256], yDom: [-10.2, 7.1], yRange: [760.3, 583],
      xTicks: [-5, 0, 5], yTicks: [-10, -5, 0, 5],
      regions: [
        { pts: eSparse, fill: "#fbe8d4" },
        { pts: eSparseRight, fill: "#fbe8d4" },
        { pts: eGreenSparseA, fill: "#cfeada" },
        { pts: eGreenSparseB, fill: "#cfeada" },
        { pts: eMacrophages, fill: "#f5820f" },
        { pts: eCdcsStreak, fill: "#16a04a", opacity: 0.8 },
        { pts: eCdcsCore, fill: "#16a04a" },
        { pts: eCdcsBlobA, fill: "#16a04a" },
        { pts: eCdcsBlobB, fill: "#16a04a" },
        { pts: eMaureDcs, fill: "#f0202a" },
        { pts: eMonocytes, fill: "#2a78b0" },
      ],
      strays: [
        { pts: eOrangeStray, fill: "#f09030", r: 0.6 },
        { pts: eGreenStray, fill: "#16a04a", r: 0.8 },
        { pts: eWhiteSpeck, fill: "#fbe3c8", r: 0.8 },
      ],
    });
    label(page, 41.7, 672.7, "UMAP_2", 12, { rotate: true });
    label(page, 185.7, 799, "UMAP_1", 12);
    drawLegend(page, 275.7, 284, 4.7, [650, 661.7, 673.3, 685.7], clusterLabelsE, legendColorsE, 11.5);

    // F
    drawViolins(page, {
      profiles: violinF, colors: violinColorsF,
      centers: [455.7, 626.3], frame: [421, 660.7], yRange: [766.3, 585.7], yDom: [-0.31, 6.6], halfWidth: 26, labelDx: -1.5,
    });
    label(page, 545, 574, "ARG1", 11.5);
    label(page, 390, 677.7, "Expression Level", 12, { rotate: true });
    drawLegend(page, 690.7, 705, 5.7, [652.7, 671, 688.3, 707.7], legendF, legendColorsF);

    // panel letters
    const letters: [string, number, number][] = [["A", 1, 15.7], ["B", 436, 13.5], ["C", 23, 331], ["D", 373, 334.7], ["E", 25, 584], ["F", 380.7, 576]];
    letters.forEach(([s, x, y]) => label(page, x, y, s, 16, { anchor: "start", fill: "#111" }));
  }, []);

  return (
    <svg
      ref={ref}
      width={784}
      height={804}
      viewBox="0 0 784 804"
      style={{ position: "absolute", left: 0, top: 0, background: "#fff", display: "block" }}
    />
  );
}
